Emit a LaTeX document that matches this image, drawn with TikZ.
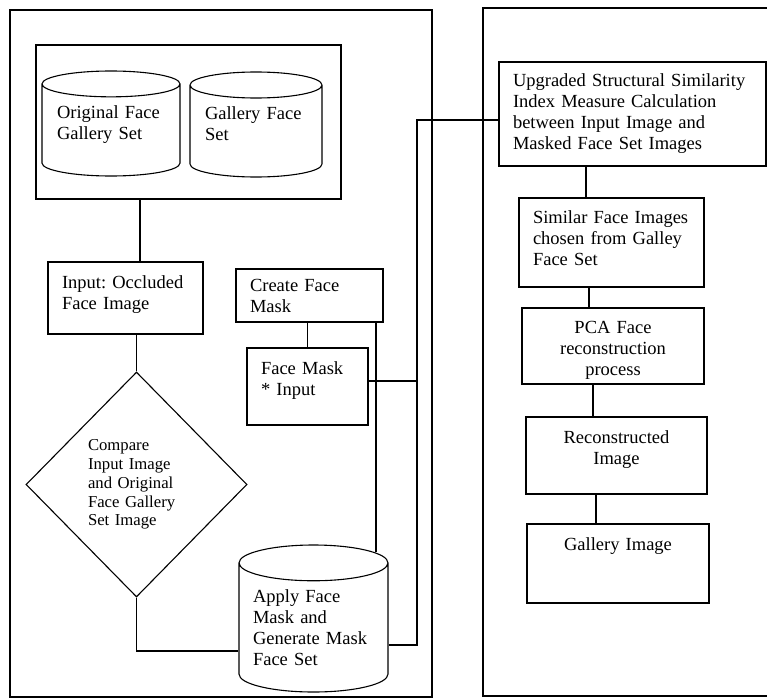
\documentclass[tikz,border=0pt]{standalone}
\usepackage{fontspec}
\setmainfont{Liberation Serif}
\usepackage{tikz}
\usetikzlibrary{shapes.geometric, calc}

\begin{document}
\frenchspacing
\begin{tikzpicture}[
  x=1pt, y=-1pt,
  panel/.style={rectangle, draw, line width=1.4pt},
  stepbox/.style={rectangle, draw, line width=1.1pt, align=left,
                  inner xsep=14pt, inner ysep=0pt,
                  font=\fontsize{18.5}{21}\selectfont},
  midbox/.style={stepbox, align=center},
  store/.style={cylinder, shape border rotate=90, draw, line width=1.1pt,
                anchor=shape center, align=left, inner xsep=14pt, inner ysep=0pt,
                font=\fontsize{18.5}{21}\selectfont},
  decision/.style={diamond, draw, line width=1.1pt, align=left, inner sep=0pt,
                   font=\fontsize{16.7}{18.8}\selectfont},
  lifttext/.style={text depth=#1},
  link/.style={line width=1.1pt},
]
\useasboundingbox (0,0) rectangle (767,698);

% Panels
\node[panel, minimum width=422pt, minimum height=687pt] (leftpanel) at (221,353.5) {};
\node[panel, minimum width=290pt, minimum height=688pt] (rightpanel) at (628,352) {};

% Gallery sets
\node[rectangle, draw, line width=1.1pt, minimum width=305pt, minimum height=154pt] (galleries) at (188.5,122) {};
\node[store, aspect=0.19, lifttext=45pt, text width=108pt, minimum width=138pt, minimum height=105pt] (origset) at (111,123.5) {Original Face\\Gallery Set};
\node[store, aspect=0.2, lifttext=45pt, text width=102pt, minimum width=132pt, minimum height=105pt] (gallset) at (256,124.5) {Gallery Face\\Set};

% Left column
\node[stepbox, lifttext=31pt, text width=127pt, minimum height=72pt] (input) at (125.5,298) {Input: Occluded\\Face Image};
\node[decision, text width=97pt, minimum width=221pt, minimum height=225pt] (compare) at (136.5,484.5) {Compare\\Input Image\\and Original\\Face Gallery\\Set Image};

% Mask column
\node[stepbox, text width=119pt, minimum height=53pt] (createmask) at (309.5,295.5) {Create Face\\Mask};
\node[stepbox, lifttext=37pt, text width=93pt, minimum height=77pt] (facemask) at (307.5,386.5) {Face Mask\\{*} Input};
\node[store, aspect=0.24, lifttext=73pt, text width=121pt, minimum width=147pt, minimum height=147pt] (applymask) at (313.5,618.5) {Apply Face\\Mask and\\Generate Mask\\Face Set};

% Right column
\node[stepbox, text width=239pt, minimum height=104pt] (ssim) at (632.5,114) {Upgraded Structural Similarity\\Index Measure Calculation\\between Input Image and\\Masked Face Set Images};
\node[stepbox, lifttext=50pt, text width=157pt, minimum height=89pt] (similar) at (611.5,242.5) {Similar Face Images\\chosen from Galley\\Face Set};
\node[midbox, lifttext=38pt, text width=154pt, minimum height=76pt] (pca) at (613,346) {PCA Face\\reconstruction\\process};
\node[midbox, lifttext=37pt, text width=153pt, minimum height=77pt] (recon) at (616.5,455.5) {Reconstructed\\Image};
\node[midbox, lifttext=38pt, text width=154pt, minimum height=79pt] (galleryimg) at (618,563.5) {Gallery Image};

% Connectors
\draw[link] (galleries.south -| 140,0) -- (input.north -| 140,0);
\draw[link] (input.south -| compare.north) -- (compare.north);
\draw[link] (compare.south) |- (applymask.west |- 0,651);
\draw[link] (createmask.south -| facemask.north) -- (facemask.north);
\draw[link] (createmask.south -| 376,0) -- ($(applymask.north)+(62.5,8)$);

\coordinate (bus) at (417,381);
\coordinate (ssimin) at ([yshift=-6pt]ssim.west);
\draw[link] (facemask.east |- bus) -- (bus);
\draw[link] (applymask.east |- 0,645) -| (bus) |- (ssimin);

\foreach \a/\b/\x in {ssim/similar/586, similar/pca/589, pca/recon/593, recon/galleryimg/596} {
  \draw[link] (\a.south -| \x,0) -- (\b.north -| \x,0);
}

\end{tikzpicture}
\end{document}
